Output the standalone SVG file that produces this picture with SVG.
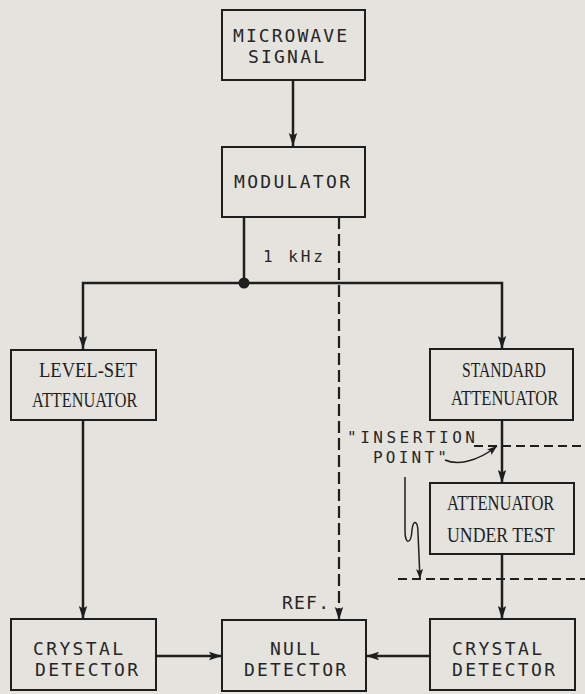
<svg xmlns="http://www.w3.org/2000/svg" width="585" height="694" viewBox="0 0 585 694">
<defs>
<marker id="ah" markerUnits="userSpaceOnUse" markerWidth="14" markerHeight="10" refX="13" refY="5" orient="auto">
<path d="M0,0.8 L13,5 L0,9.2 L2.5,5 z" fill="#1e1e1e"/>
</marker>
<marker id="ahs" markerUnits="userSpaceOnUse" markerWidth="11" markerHeight="8" refX="10" refY="4" orient="auto">
<path d="M0,0.5 L10,4 L0,7.5 L2,4 z" fill="#1e1e1e"/>
</marker>
<style>
.box{fill:none;stroke:#1e1e1e;stroke-width:2}
.ln{fill:none;stroke:#1e1e1e;stroke-width:2.5}
.dl{fill:none;stroke:#1e1e1e;stroke-width:2.2;stroke-dasharray:12 5}
.dh{fill:none;stroke:#1e1e1e;stroke-width:1.8;stroke-dasharray:9 5}
.thin{fill:none;stroke:#1e1e1e;stroke-width:1.5}
.m{font-family:"DejaVu Sans Mono",monospace;font-size:18px;fill:#262626}
.ms{font-family:"DejaVu Sans Mono",monospace;font-size:16px;fill:#262626}
.s{font-family:"Liberation Serif",serif;font-size:21px;fill:#1e1e1e}
</style>
</defs>
<rect width="585" height="694" fill="#e5e3dd"/>
<g id="connectors">
<path class="ln" d="M293,80 V146" marker-end="url(#ah)"/>
<path class="ln" d="M244,217 V283"/>
<path class="ln" d="M244,283 H83 V349" marker-end="url(#ah)"/>
<path class="ln" d="M244,283 H502 V349" marker-end="url(#ah)"/>
<circle cx="244" cy="283" r="5.5" fill="#1e1e1e"/>
<path class="dl" d="M339,217 V620" marker-end="url(#ah)"/>
<path class="ln" d="M83,420 V619" marker-end="url(#ah)"/>
<path class="ln" d="M502,420 V483" marker-end="url(#ah)"/>
<path class="ln" d="M502,554 V619" marker-end="url(#ah)"/>
<path class="ln" d="M156,656 H222" marker-end="url(#ah)"/>
<path class="ln" d="M430,656 H366" marker-end="url(#ah)"/>
<path class="dh" d="M474,446 H585"/>
<path class="dh" d="M398,579 H585"/>
<path class="thin" d="M445,460 C456,465 476,463 497,446" marker-end="url(#ahs)"/>
<path class="thin" d="M405,477 L405,531 C405,545 411,545 412,530 C413,519 418,520 418,533 L420,579" marker-end="url(#ahs)"/>
</g>
<g id="microwave-signal">
<rect class="box" x="222" y="10" width="143" height="70"/>
<text class="m" x="233" y="42" textLength="114" lengthAdjust="spacing">MICROWAVE</text>
<text class="m" x="248" y="63" textLength="76" lengthAdjust="spacing">SIGNAL</text>
</g>
<g id="modulator">
<rect class="box" x="222" y="147" width="143" height="70"/>
<text class="m" x="234" y="188" textLength="116" lengthAdjust="spacing">MODULATOR</text>
</g>
<g id="label-1khz">
<text class="ms" x="263" y="262" textLength="60" lengthAdjust="spacing">1 kHz</text>
</g>
<g id="level-set-attenuator">
<rect class="box" x="11" y="350" width="145" height="70"/>
<text class="s" transform="matrix(0.884,0,0,1,39,377)">LEVEL-SET</text>
<text class="s" transform="matrix(0.774,0,0,1,32,407)">ATTENUATOR</text>
</g>
<g id="standard-attenuator">
<rect class="box" x="430" y="349" width="143" height="71"/>
<text class="s" transform="matrix(0.744,0,0,1,462,377)">STANDARD</text>
<text class="s" transform="matrix(0.788,0,0,1,451,405)">ATTENUATOR</text>
</g>
<g id="insertion-point-label">
<text class="ms" x="347" y="443" textLength="128" lengthAdjust="spacing">"INSERTION</text>
<text class="ms" x="373" y="463" textLength="74" lengthAdjust="spacing">POINT"</text>
</g>
<g id="attenuator-under-test">
<rect class="box" x="430" y="483" width="144" height="71"/>
<text class="s" transform="matrix(0.79,0,0,1,447,510)">ATTENUATOR</text>
<text class="s" transform="matrix(0.846,0,0,1,447,542)">UNDER TEST</text>
</g>
<g id="ref-label">
<text class="m" x="282" y="609" textLength="47" lengthAdjust="spacing">REF.</text>
</g>
<g id="crystal-detector-left">
<rect class="box" x="11" y="619" width="145" height="71"/>
<text class="m" x="33" y="655" textLength="90" lengthAdjust="spacing">CRYSTAL</text>
<text class="m" x="35" y="676" textLength="103" lengthAdjust="spacing">DETECTOR</text>
</g>
<g id="null-detector">
<rect class="box" x="222" y="620" width="144" height="71"/>
<text class="m" x="270" y="655" textLength="50" lengthAdjust="spacing">NULL</text>
<text class="m" x="244" y="676" textLength="102" lengthAdjust="spacing">DETECTOR</text>
</g>
<g id="crystal-detector-right">
<rect class="box" x="430" y="619" width="145" height="71"/>
<text class="m" x="452" y="655" textLength="90" lengthAdjust="spacing">CRYSTAL</text>
<text class="m" x="452" y="676" textLength="103" lengthAdjust="spacing">DETECTOR</text>
</g>
</svg>
